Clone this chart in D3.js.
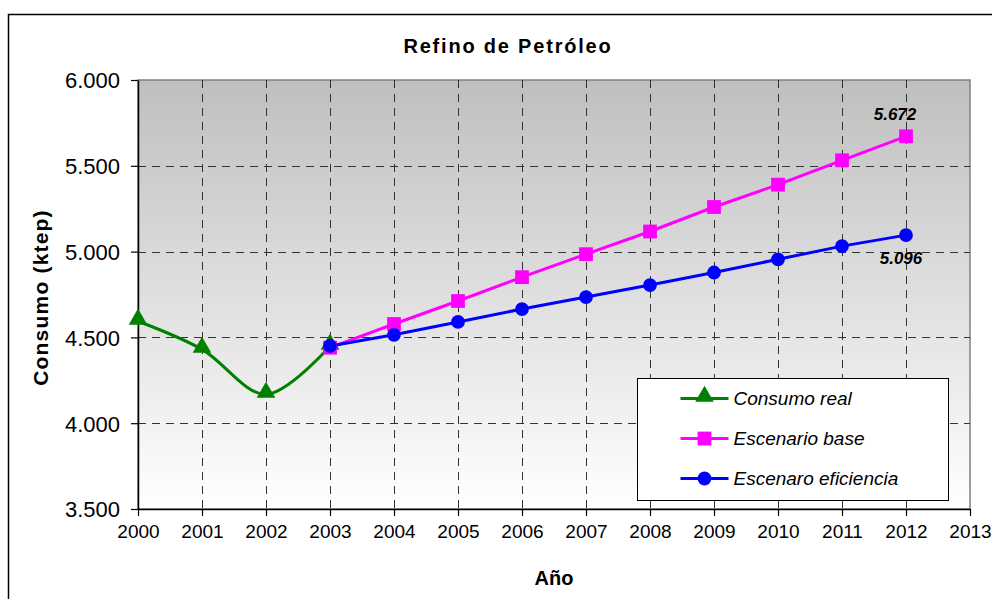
<!DOCTYPE html>
<html lang="es">
<head>
<meta charset="UTF-8">
<title>Refino de Petróleo</title>
<style>
  body { margin: 0; background: #fff; font-family: Arial, "Liberation Sans", sans-serif; }
  svg { display: block; }
</style>
</head>
<body>
<div id="chart"></div>
<script src="https://d3js.org/d3.v7.min.js"></script>
<script>
// data
const realYears = [2000, 2001, 2002, 2003];
const realValues = [4594, 4430, 4168, 4448];

const scenarioYears = [2003, 2004, 2005, 2006, 2007, 2008, 2009, 2010, 2011, 2012];
const baseValues = [4440, 4578, 4712, 4851, 4985, 5117, 5260, 5390, 5532, 5672];
const efficiencyValues = [4450, 4515, 4590, 4665, 4735, 4805, 4878, 4955, 5032, 5096];

const xTicks = d3.range(2000, 2014);
const yTicks = [3500, 4000, 4500, 5000, 5500, 6000];

const seriesNames = ["Consumo real", "Escenario base", "Escenaro eficiencia"];
const seriesColors = ["#008000", "#ff00ff", "#0000ff"];

const width = 992, height = 599;
const margin = { left: 138, top: 80, right: 22, bottom: 90 };
const fmt = d3.format(",.0f");
const esNum = v => fmt(v).replace(/,/g, ".");

const svg = d3.select("#chart").append("svg")
  .attr("width", width)
  .attr("height", height);

// outer chart frame (runs off the picture on the right and bottom)
svg.append("rect")
  .attr("x", 8.5).attr("y", 14.5)
  .attr("width", 1010).attr("height", 620)
  .attr("fill", "#fff").attr("stroke", "#000").attr("stroke-width", 1.5);

const x = d3.scaleLinear().domain([2000, 2013]).range([margin.left, width - margin.right]);
const y = d3.scaleLinear().domain([3500, 6000]).range([height - margin.bottom, margin.top]);

// background gradient
const grad = svg.append("defs").append("linearGradient")
  .attr("id", "bg").attr("x1", 0).attr("y1", 0).attr("x2", 0).attr("y2", 1);
grad.append("stop").attr("offset", "0%").attr("stop-color", "#bfbfbf");
grad.append("stop").attr("offset", "100%").attr("stop-color", "#ffffff");

svg.append("rect")
  .attr("x", x(2000)).attr("y", y(6000))
  .attr("width", x(2013) - x(2000)).attr("height", y(3500) - y(6000))
  .attr("fill", "url(#bg)").attr("stroke", "#808080").attr("stroke-width", 1.5);

// grid lines
const grid = svg.append("g").attr("stroke", "#333").attr("stroke-width", 1).attr("stroke-dasharray", "8,6");
grid.selectAll(".vg").data(xTicks.filter(d => d > 2000 && d < 2013)).enter().append("line")
  .attr("x1", d => Math.round(x(d)) + 0.5).attr("x2", d => Math.round(x(d)) + 0.5)
  .attr("y1", y(6000)).attr("y2", y(3500));
grid.selectAll(".hg").data(yTicks.filter(d => d > 3500 && d < 6000)).enter().append("line")
  .attr("y1", d => Math.round(y(d)) + 0.5).attr("y2", d => Math.round(y(d)) + 0.5)
  .attr("x1", x(2000)).attr("x2", x(2013));

// axes
const xAxis = d3.axisBottom(x).tickValues(xTicks).tickFormat(d3.format("d")).tickSizeInner(7).tickSizeOuter(0).tickPadding(9);
const yAxis = d3.axisLeft(y).tickValues(yTicks).tickFormat(esNum).tickSizeInner(7).tickSizeOuter(0).tickPadding(11);

const gx = svg.append("g").attr("transform", `translate(0,${y(3500)})`).call(xAxis);
const gy = svg.append("g").attr("transform", `translate(${x(2000)},0)`).call(yAxis);
[gx, gy].forEach(g => {
  g.select(".domain").attr("stroke", "#000").attr("stroke-width", 1.5);
  g.selectAll(".tick line").attr("stroke", "#000").attr("stroke-width", 1.2);
  g.selectAll("text").attr("fill", "#000").attr("font-family", "Arial, 'Liberation Sans', sans-serif");
});
gx.selectAll("text").attr("font-size", 19).attr("dy", "0.68em");
gy.selectAll("text").attr("font-size", 22).attr("dy", "0.36em");

// lines
const line = d3.line().x(d => x(d[0])).y(d => y(d[1]));
const realPts = realYears.map((yr, i) => [yr, realValues[i]]);
const basePts = scenarioYears.map((yr, i) => [yr, baseValues[i]]);
const effPts = scenarioYears.map((yr, i) => [yr, efficiencyValues[i]]);

svg.append("path").datum(realPts)
  .attr("d", line.curve(d3.curveCatmullRom.alpha(0.5)))
  .attr("fill", "none").attr("stroke", seriesColors[0]).attr("stroke-width", 3);
svg.append("path").datum(basePts)
  .attr("d", d3.line().x(d => x(d[0])).y(d => y(d[1]))(basePts))
  .attr("fill", "none").attr("stroke", seriesColors[1]).attr("stroke-width", 3);
svg.append("path").datum(effPts)
  .attr("d", d3.line().x(d => x(d[0])).y(d => y(d[1]))(effPts))
  .attr("fill", "none").attr("stroke", seriesColors[2]).attr("stroke-width", 3);

// markers
const tri = d3.symbol().type(d3.symbolTriangle).size(150);
const sq = d3.symbol().type(d3.symbolSquare).size(190);
const circ = d3.symbol().type(d3.symbolCircle).size(150);
const markerShapes = [tri, sq, circ];

svg.append("g").selectAll("path").data(realPts).enter().append("path")
  .attr("d", tri).attr("transform", d => `translate(${x(d[0])},${y(d[1]) - 2})`)
  .attr("fill", seriesColors[0]);
svg.append("g").selectAll("path").data(basePts).enter().append("path")
  .attr("d", sq).attr("transform", d => `translate(${x(d[0])},${y(d[1])})`)
  .attr("fill", seriesColors[1]);
svg.append("g").selectAll("path").data(effPts).enter().append("path")
  .attr("d", circ).attr("transform", d => `translate(${x(d[0])},${y(d[1])})`)
  .attr("fill", seriesColors[2]);

// end-value labels
const lastBase = basePts[basePts.length - 1];
const lastEff = effPts[effPts.length - 1];
svg.append("text")
  .attr("x", x(lastBase[0]) - 11).attr("y", y(lastBase[1]) - 16)
  .attr("text-anchor", "middle").attr("font-size", 17).attr("font-weight", "bold").attr("font-style", "italic")
  .text(esNum(lastBase[1]));
svg.append("text")
  .attr("x", x(lastEff[0]) - 5).attr("y", y(lastEff[1]) + 29)
  .attr("text-anchor", "middle").attr("font-size", 17).attr("font-weight", "bold").attr("font-style", "italic")
  .text(esNum(lastEff[1]));

// titles
svg.append("text")
  .attr("x", 508).attr("y", 53)
  .attr("text-anchor", "middle").attr("font-size", 20).attr("font-weight", "bold").attr("letter-spacing", 1.8)
  .text("Refino de Petróleo");
svg.append("text")
  .attr("x", (x(2000) + x(2013)) / 2).attr("y", 585)
  .attr("text-anchor", "middle").attr("font-size", 20).attr("font-weight", "bold")
  .text("Año");
svg.append("text")
  .attr("transform", `translate(48,${(y(3500) + y(6000)) / 2 + 3}) rotate(-90)`)
  .attr("text-anchor", "middle").attr("font-size", 21).attr("font-weight", "bold").attr("letter-spacing", 1.2)
  .text("Consumo (ktep)");

// legend
const legend = svg.append("g").attr("transform", "translate(637.5,378.5)");
legend.append("rect").attr("width", 311).attr("height", 122)
  .attr("fill", "#fff").attr("stroke", "#000").attr("stroke-width", 1);
seriesNames.forEach((name, i) => {
  const row = legend.append("g").attr("transform", `translate(0,${20 + i * 40})`);
  row.append("line").attr("x1", 43).attr("x2", 91).attr("y1", 0).attr("y2", 0)
    .attr("stroke", seriesColors[i]).attr("stroke-width", 3);
  row.append("path").attr("d", markerShapes[i])
    .attr("transform", `translate(67,${i === 0 ? -2 : 0})`).attr("fill", seriesColors[i]);
  row.append("text").attr("x", 96).attr("y", 0).attr("dy", "0.35em")
    .attr("font-size", 19).attr("font-style", "italic")
    .text(name);
});
</script>
</body>
</html>
